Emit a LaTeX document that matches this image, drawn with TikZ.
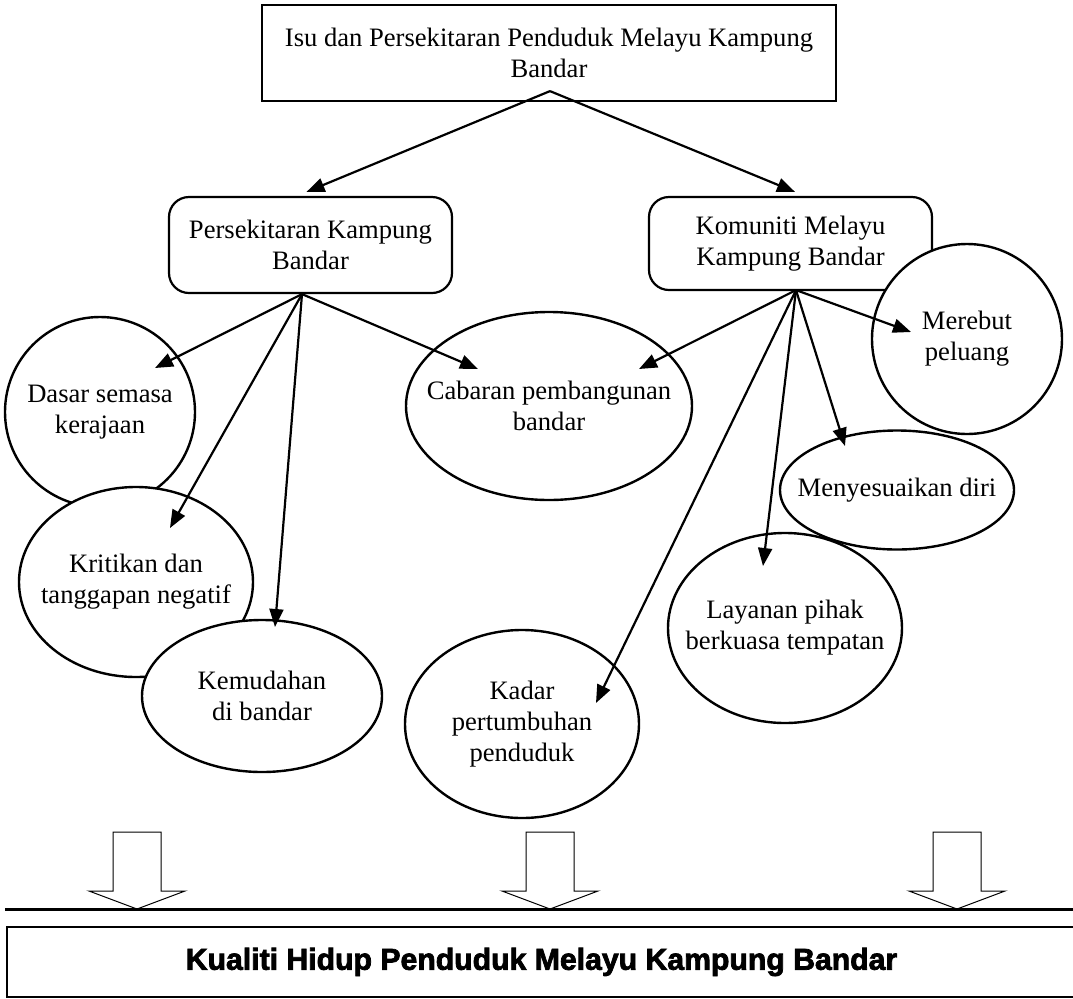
\documentclass[tikz,border=0pt]{standalone}
\usepackage{fontspec}
\setmainfont{Liberation Serif}
\newfontfamily\heavyfont[FakeBold=2.5]{Liberation Sans Bold}
\usepackage{tikz}
\usetikzlibrary{calc, positioning, shapes.geometric, arrows.meta}

\begin{document}
\begin{tikzpicture}[x=0.5pt, y=-0.5pt, >={Triangle[length=9pt, width=7pt]},
    font=\fontsize{13.3pt}{15.5pt}\selectfont,
    topbox/.style={draw, line width=1.1pt, fill=white, align=center, inner sep=0pt},
    roundbox/.style={draw, line width=1.1pt, fill=white, rounded corners=10pt, align=center, inner sep=0pt, minimum width=141.5pt},
    bubble/.style={draw, ellipse, line width=1.2pt, fill=white, inner sep=0pt},
    link/.style={->, line width=1.1pt},
    hollow/.style={draw, line width=0.5pt, fill=white}]
    \useasboundingbox (0,0) rectangle (1073,998);
    \node (isu) [topbox, minimum width=287pt, minimum height=48pt] at (549,53)
    {Isu dan Persekitaran Penduduk Melayu Kampung\\Bandar};
    \node (kampung) [roundbox, minimum height=48pt] at (310.5,245) {Persekitaran Kampung\\Bandar};
    \node (komuniti) [roundbox, minimum height=46.5pt] at (790.5,243.5) {Komuniti Melayu\\Kampung Bandar};
    \node (rebut) [bubble, minimum width=95pt, minimum height=95pt,
    label={[align=center]center:{Merebut\\peluang}}] at (967,339) {};
    \node (dasar) [bubble, minimum width=95pt, minimum height=95pt,
    label={[align=center]center:{Dasar semasa\\kerajaan}}] at (100,412) {};
    \node (kritikan) [bubble, minimum width=117pt, minimum height=95pt,
    label={[align=center]center:{Kritikan dan\\tanggapan negatif}}] at (136,582) {};
    \node (kemudahan) [bubble, minimum width=120pt, minimum height=76pt,
    label={[align=center]center:{Kemudahan\\di bandar}}] at (262,696) {};
    \node (cabaran) [bubble, minimum width=143pt, minimum height=94pt,
    label={[align=center]center:{Cabaran pembangunan\\bandar}}] at (549,406) {};
    \node (sesuai) [bubble, minimum width=117pt, minimum height=59.5pt,
    label={[align=center]center:{Menyesuaikan diri}}] at (897,490) {};
    \node (layanan) [bubble, minimum width=117pt, minimum height=95pt,
    label={[align=center]center:{Layanan pihak\\berkuasa tempatan}}] at (785,628) {};
    \node (kadar) [bubble, minimum width=117pt, minimum height=94pt,
    label={[align=center]center:{Kadar\\pertumbuhan\\penduduk}}] at (522,724) {};
    \draw[link]
    ($(isu.south)+(1,-11)$) -- ($(kampung.north)+(-4,-4)$);
    \draw[link]
    ($(isu.south)+(1,-11)$) -- ($(komuniti.north)+(4.5,-4)$);
    \draw[link]
    ($(kampung.south)+(-8.5,0)$) -- ($(dasar)+(55,-44)$);
    \draw[link]
    ($(kampung.south)+(-8.5,0)$) -- ($(kritikan)+(34,-54)$);
    \draw[link]
    ($(kampung.south)+(-8.5,0)$) -- ($(kemudahan)+(13,-69)$);
    \draw[link]
    ($(kampung.south)+(-8.5,0)$) -- ($(cabaran)+(-71,-37)$);
    \draw[link]
    ($(komuniti.south)+(5.5,-1)$) -- ($(cabaran)+(90,-37)$);
    \draw[link]
    ($(komuniti.south)+(5.5,-1)$) -- ($(kadar)+(74,-21)$);
    \draw[link]
    ($(komuniti.south)+(5.5,-1)$) -- ($(layanan)+(-22,-62)$);
    \draw[link]
    ($(komuniti.south)+(5.5,-1)$) -- ($(sesuai)+(-52,-44)$);
    \draw[link]
    ($(komuniti.south)+(5.5,-1)$) -- ($(rebut)+(-56,-7)$);
    \foreach \x in {137,550,957}
    \draw[hollow] (\x,909) -- ++(-48,-18) -- ++(24,0) -- ++(0,-59) -- ++(48,0) -- ++(0,59) -- ++(24,0) -- cycle;
    \draw[line width=1.5pt] (5,909) -- (1073,909);
    \node (kualiti) [draw, line width=0.8pt, minimum width=534.5pt, minimum height=35pt, inner sep=0pt,
    font=\heavyfont\fontsize{15.1pt}{18pt}\selectfont] at (541.5,962) {Kualiti Hidup Penduduk Melayu Kampung Bandar};
\end{tikzpicture}
\end{document}
